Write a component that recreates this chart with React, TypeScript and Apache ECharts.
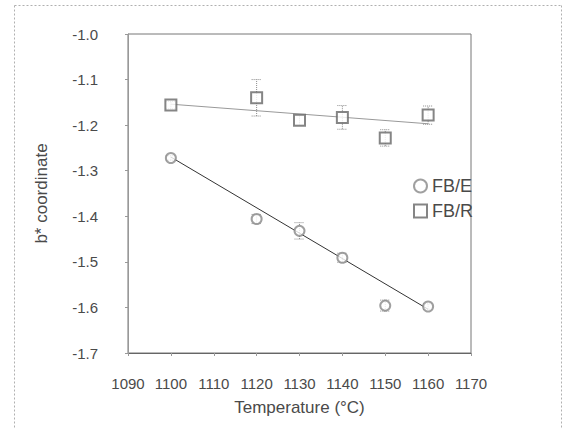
import React, { useEffect, useRef } from "react";
import * as echarts from "echarts";

const temps = [1100, 1120, 1130, 1140, 1150, 1160];
const fbE = [-1.272, -1.406, -1.432, -1.491, -1.596, -1.598];
const fbEErr = [0.005, 0.01, 0.018, 0.01, 0.012, 0.006];
const fbR = [-1.156, -1.14, -1.189, -1.183, -1.228, -1.178];
const fbRErr = [0.008, 0.04, 0.01, 0.026, 0.018, 0.02];
const fbETrend = [[1100, -1.27], [1160, -1.604]];
const fbRTrend = [[1100, -1.154], [1160, -1.197]];
const xTicks = { min: 1090, max: 1170, interval: 10 };
const yTicks = { min: -1.7, max: -1.0, interval: 0.1 };

const textColor = "#4a4a4a";
const font = "Liberation Sans";

function errorSeries(name: string, vals: number[], errs: number[]) {
  const data = temps.map((t, i) => [t, vals[i] - errs[i], vals[i] + errs[i]]);
  return {
    type: "custom",
    name: name + "-err",
    silent: true,
    z: 1,
    data,
    renderItem: (params: any, api: any) => {
      const x = api.value(0);
      const lo = api.coord([x, api.value(1)]);
      const hi = api.coord([x, api.value(2)]);
      const cap = 5;
      const style = { stroke: "#8a8a8a", lineWidth: 1, lineDash: [1, 1] };
      return {
        type: "group",
        children: [
          { type: "line", shape: { x1: lo[0], y1: lo[1], x2: hi[0], y2: hi[1] }, style },
          { type: "line", shape: { x1: lo[0] - cap, y1: lo[1], x2: lo[0] + cap, y2: lo[1] }, style },
          { type: "line", shape: { x1: hi[0] - cap, y1: hi[1], x2: hi[0] + cap, y2: hi[1] }, style },
        ],
      };
    },
  };
}

const frameStyle = { stroke: "#b0b0b0", lineWidth: 1, lineDash: [2, 2] };

export default function App() {
  const ref = useRef<HTMLDivElement>(null);
  useEffect(() => {
    if (!ref.current) return;
    const chart = echarts.init(ref.current, undefined, { renderer: "svg" });
    chart.setOption({
      animation: false,
      backgroundColor: "#fff",
      grid: { left: 128, top: 34, right: 94, bottom: 76, show: true, borderColor: "#777", borderWidth: 1 },
      xAxis: {
        type: "value",
        min: xTicks.min,
        max: xTicks.max,
        interval: xTicks.interval,
        name: "Temperature (\u00B0C)",
        nameLocation: "middle",
        nameGap: 46,
        nameTextStyle: { fontSize: 17, color: textColor, fontFamily: font },
        axisLine: { lineStyle: { color: "#666" } },
        axisTick: { show: true, length: 3, lineStyle: { color: "#999" } },
        axisLabel: { fontSize: 15, color: textColor, fontFamily: font, margin: 23, formatter: (v: number) => String(v) },
        splitLine: { show: false },
      },
      yAxis: {
        type: "value",
        min: yTicks.min,
        max: yTicks.max,
        interval: yTicks.interval,
        name: "b* coordinate",
        nameLocation: "middle",
        nameGap: 78,
        nameTextStyle: { fontSize: 17, color: textColor, fontFamily: font },
        axisLine: { show: true, lineStyle: { color: "#999" } },
        axisTick: { show: true, length: 3, lineStyle: { color: "#999" } },
        axisLabel: { fontSize: 15, color: textColor, fontFamily: font, margin: 30, formatter: (v: number) => v.toFixed(1) },
        splitLine: { show: false },
      },
      legend: {
        orient: "vertical",
        left: 408,
        top: 172,
        itemWidth: 13,
        itemHeight: 13,
        itemGap: 7,
        textStyle: { fontSize: 18, color: textColor, fontFamily: font },
        data: [
          { name: "FB/E", icon: "emptyCircle" },
          { name: "FB/R", icon: "emptyRect" },
        ],
      },
      graphic: [
        { type: "line", silent: true, z: 10, shape: { x1: 14.5, y1: 5.5, x2: 561.5, y2: 5.5 }, style: frameStyle },
        { type: "line", silent: true, z: 10, shape: { x1: 561.5, y1: 5.5, x2: 561.5, y2: 428.5 }, style: frameStyle },
        { type: "line", silent: true, z: 10, shape: { x1: 14.5, y1: 5.5, x2: 14.5, y2: 428.5 }, style: frameStyle },
      ],
      series: [
        errorSeries("FB/E", fbE, fbEErr),
        errorSeries("FB/R", fbR, fbRErr),
        {
          type: "line",
          name: "FB/E-trend",
          data: fbETrend,
          symbol: "none",
          lineStyle: { color: "#333", width: 1 },
          z: 2,
        },
        {
          type: "line",
          name: "FB/R-trend",
          data: fbRTrend,
          symbol: "none",
          lineStyle: { color: "#999", width: 1 },
          z: 2,
        },
        {
          type: "scatter",
          name: "FB/E",
          data: temps.map((t, i) => [t, fbE[i]]),
          symbol: "emptyCircle",
          symbolSize: 10,
          itemStyle: { color: "#888", borderColor: "#888", borderWidth: 1 },
          z: 3,
        },
        {
          type: "scatter",
          name: "FB/R",
          data: temps.map((t, i) => [t, fbR[i]]),
          symbol: "emptyRect",
          symbolSize: 11,
          itemStyle: { color: "#666", borderColor: "#666", borderWidth: 1 },
          z: 3,
        },
      ],
    });
    return () => chart.dispose();
  }, []);
  return <div ref={ref} style={{ position: "fixed", left: 0, top: 0, width: 565, height: 429 }} />;
}
